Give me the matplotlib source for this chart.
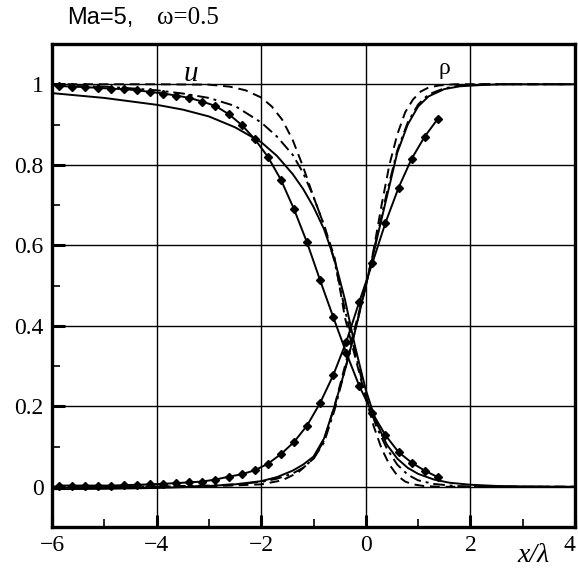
import numpy as np
import matplotlib
matplotlib.use("Agg")
import matplotlib.pyplot as plt
from matplotlib.ticker import MultipleLocator

# diamond-marked profiles
x_dia = [-5.875, -5.625, -5.375, -5.125, -4.875, -4.625, -4.375, -4.125, -3.875, -3.625,
         -3.375, -3.125, -2.875, -2.625, -2.375, -2.125, -1.875, -1.625, -1.375, -1.125,
         -0.875, -0.625, -0.375, -0.125, 0.125, 0.375, 0.625, 0.875, 1.125, 1.375]
u_dia = [0.996, 0.994, 0.993, 0.991, 0.989, 0.988, 0.985, 0.981, 0.977, 0.972,
         0.966, 0.957, 0.946, 0.926, 0.899, 0.864, 0.820, 0.763, 0.690, 0.607,
         0.513, 0.422, 0.333, 0.250, 0.183, 0.128, 0.086, 0.060, 0.040, 0.024]
rho_dia = [0.003, 0.003, 0.003, 0.003, 0.003, 0.004, 0.005, 0.006, 0.0075, 0.009,
           0.011, 0.013, 0.018, 0.025, 0.031, 0.041, 0.057, 0.081, 0.111, 0.152,
           0.208, 0.277, 0.360, 0.460, 0.556, 0.656, 0.743, 0.815, 0.870, 0.914]

# plain solid profiles
x_u_sol = [-6, -5, -4, -3.5, -3, -2.5, -2, -1.7, -1.4, -1.2, -1.0, -0.8, -0.6, -0.4,
           -0.2, 0, 0.2, 0.4, 0.6, 0.8, 1.0, 1.3, 1.6, 2.0, 2.5, 3.0, 4.0]
u_sol = [0.978, 0.966, 0.949, 0.937, 0.920, 0.893, 0.856, 0.822, 0.777, 0.740, 0.695,
         0.640, 0.565, 0.465, 0.345, 0.240, 0.160, 0.105, 0.070, 0.047, 0.032, 0.018,
         0.010, 0.005, 0.002, 0.001, 0.0]
x_r_sol = [-6, -5, -4, -3.5, -3, -2.5, -2, -1.7, -1.4, -1.2, -1.0, -0.8, -0.6, -0.4,
           -0.2, 0, 0.2, 0.4, 0.6, 0.8, 1.0, 1.2, 1.5, 1.8, 2.2, 2.6, 3.0, 4.0]
rho_sol = [-0.006, -0.005, -0.003, -0.001, 0.002, 0.006, 0.014, 0.024, 0.040, 0.055,
           0.075, 0.120, 0.200, 0.290, 0.390, 0.500, 0.610, 0.720, 0.830, 0.900, 0.945,
           0.970, 0.988, 0.995, 0.998, 1.0, 1.0, 1.0]

# dashed profiles
x_u_dsh = [-6, -4, -3, -2.6, -2.3, -2.0, -1.8, -1.6, -1.4, -1.2, -1.0, -0.8, -0.6, -0.4,
           -0.2, 0, 0.15, 0.3, 0.45, 0.6, 0.75, 0.9, 1.1, 1.4, 2.0, 4.0]
u_dsh = [1.0, 1.0, 0.999, 0.994, 0.985, 0.967, 0.945, 0.912, 0.862, 0.795, 0.720, 0.650,
         0.570, 0.420, 0.320, 0.220, 0.150, 0.095, 0.055, 0.028, 0.013, 0.006, 0.002,
         0.0, 0.0, 0.0]
x_r_dsh = [-6, -3, -2, -1.6, -1.3, -1.0, -0.8, -0.6, -0.4, -0.2, 0, 0.15, 0.3, 0.45,
           0.6, 0.75, 0.9, 1.05, 1.2, 1.4, 1.7, 4.0]
rho_dsh = [0.0, 0.001, 0.006, 0.016, 0.035, 0.070, 0.115, 0.200, 0.300, 0.400, 0.500,
           0.590, 0.700, 0.800, 0.875, 0.930, 0.962, 0.982, 0.992, 0.997, 1.0, 1.0]

# dash-dot profiles
x_u_dd = [-6, -5, -4.5, -4, -3.5, -3, -2.5, -2, -1.7, -1.4, -1.2, -1.0, -0.8, -0.6,
          -0.4, -0.2, 0, 0.2, 0.4, 0.6, 0.8, 1.0, 1.3, 1.7, 2.2, 3.0, 4.0]
u_dd = [0.997, 0.994, 0.990, 0.985, 0.977, 0.966, 0.946, 0.905, 0.870, 0.825, 0.780,
        0.720, 0.650, 0.560, 0.440, 0.330, 0.225, 0.150, 0.095, 0.055, 0.030, 0.016,
        0.007, 0.002, 0.0, 0.0, 0.0]
x_r_dd = [-6, -4, -3, -2.5, -2, -1.7, -1.4, -1.2, -1.0, -0.8, -0.6, -0.4, -0.2, 0, 0.2,
          0.4, 0.6, 0.8, 1.0, 1.2, 1.5, 1.8, 2.2, 3.0, 4.0]
rho_dd = [0.0, 0.001, 0.003, 0.006, 0.012, 0.020, 0.033, 0.047, 0.070, 0.110, 0.190,
          0.290, 0.390, 0.500, 0.615, 0.730, 0.835, 0.905, 0.950, 0.975, 0.990, 0.997,
          1.0, 1.0, 1.0]

x_ticks = [-6, -4, -2, 0, 2, 4]
y_ticks = [0, 0.2, 0.4, 0.6, 0.8, 1.0]
y_ticklabels = ["0", "0.2", "0.4", "0.6", "0.8", "1"]

SERIF = ["Liberation Serif", "DejaVu Serif"]
plt.rcParams.update({
    "font.family": SERIF,
    "xtick.direction": "in",
    "ytick.direction": "in",
    "xtick.labelsize": 17,
    "ytick.labelsize": 17,
})

fig = plt.figure(figsize=(5.78, 5.70), dpi=100)
ax = fig.add_axes([0.090, 0.0754, 0.905, 0.8474])

LW = 1.4
MS = 3.7
ax.plot(x_dia, u_dia, color="black", lw=LW, marker="D", ms=MS, mfc="black", mec="black")
ax.plot(x_dia, rho_dia, color="black", lw=LW, marker="D", ms=MS, mfc="black", mec="black")
ax.plot(x_u_sol, u_sol, color="black", lw=LW)
ax.plot(x_r_sol, rho_sol, color="black", lw=LW)
ax.plot(x_u_dsh, u_dsh, color="black", lw=LW, ls=(0, (5, 3)))
ax.plot(x_r_dsh, rho_dsh, color="black", lw=LW, ls=(0, (5, 3)))
ax.plot(x_u_dd, u_dd, color="black", lw=LW, ls=(0, (6, 2.5, 1.5, 2.5)))
ax.plot(x_r_dd, rho_dd, color="black", lw=LW, ls=(0, (6, 2.5, 1.5, 2.5)))

ax.set_xlim(-6, 4)
ax.set_ylim(-0.1, 1.1)
ax.set_xticks(x_ticks)
ax.xaxis.set_minor_locator(MultipleLocator(1))
ax.set_yticks(y_ticks)
ax.set_yticklabels(y_ticklabels)
ax.yaxis.set_minor_locator(MultipleLocator(0.1))
ax.tick_params(which="major", length=9, width=2.2, pad=6)
ax.tick_params(which="minor", length=6, width=1.2)
ax.grid(True, which="major", color="black", lw=1.0)
for s in ax.spines.values():
    s.set_linewidth(2.4)
# keep the last x label inside the figure
ax.get_xticklabels()[-1].set_ha("right")

ax.text(-3.35, 1.025, "u", fontsize=21, style="italic", ha="center", va="center")
ax.text(1.5, 1.04, "ρ", fontsize=17, ha="center", va="center")

fig.text(67 / 578, 1 - 18 / 570, "Ma=5,", family=["Liberation Sans"], fontsize=17,
         ha="left", va="center")
fig.text(157 / 578, 1 - 18 / 570, "ω=0.5", family=SERIF, fontsize=18,
         ha="left", va="center")
fig.text(533 / 578, 1 - 555 / 570, "x/λ", family=SERIF, style="italic", fontsize=20,
         ha="center", va="center")

fig.savefig("out.png", dpi=100)
